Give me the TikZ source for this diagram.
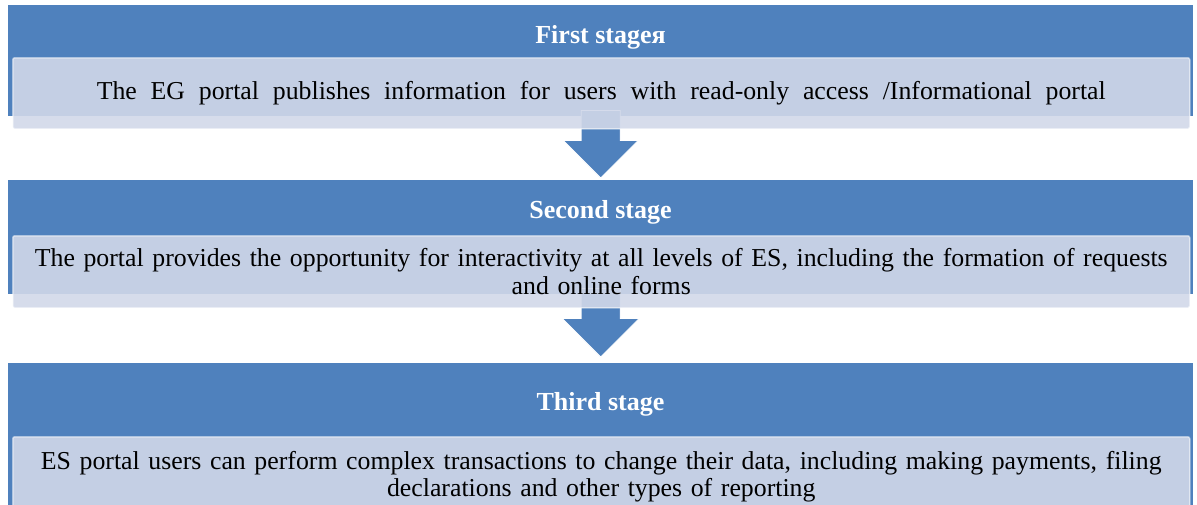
\documentclass[tikz,border=0pt]{standalone}
\usepackage{fontspec}
\setmainfont{Liberation Serif}
\usetikzlibrary{positioning,calc}
\definecolor{stageblue}{HTML}{4F81BD}
\definecolor{stagelight}{HTML}{D1D8E9}
\tikzset{
  band/.style={fill=stageblue,inner sep=0pt,anchor=north west,minimum width=1185},
  stagetitle/.style={text=white,font=\fontsize{26}{28}\selectfont\bfseries,anchor=base},
  infobox/.style={fill=stagelight,fill opacity=0.9,text opacity=1,draw=white,draw opacity=0.5,
    line width=1.5pt,rounded corners=2pt,anchor=north west,minimum width=1177,
    text width=1160,align=center,font=\fontsize{25.8}{27.5}\selectfont},
  widespace/.style={execute at begin node={\spaceskip=10.9pt plus 2pt minus 1pt}},
  downarrow/.style={fill=stageblue,draw=white,line width=0.8pt,line join=miter}
}
\begin{document}
\begin{tikzpicture}[x=1pt,y=-1pt]
  \useasboundingbox (0,0) rectangle (1197,504);
  \clip (0,0) rectangle (1197,504);
  % blue bands
  \node[band,minimum height=111] (band1) at (8,5) {};
  \node[band,minimum height=114] (band2) at (8,180) {};
  \node[band,minimum height=160] (band3) at (8,363) {};
  \node[stagetitle] (title1) at (600.5,43) {First stageя};
  \node[stagetitle] (title2) at (600.5,218) {Second stage};
  \node[stagetitle] (title3) at (600.5,410) {Third stage};
  % arrows between the stages
  \draw[downarrow] ($(band1.south)+(-19.5,-6)$) -- ++(39,0) |- ($(band1.south)+(37.5,24)$)
    -- ($(band2.north)+(0,-2)$) -- ($(band1.south)+(-37.5,24)$) -| cycle;
  \draw[downarrow] ($(band2.south)+(-19.5,-6)$) -- ++(39,0) |- ($(band2.south)+(38.5,24)$)
    -- ($(band3.north)+(0,-6)$) -- ($(band2.south)+(-38.5,24)$) -| cycle;
  % text boxes
  \node[infobox,widespace,minimum height=71] (box1) at (12,57)
    {The EG portal publishes information for users with read-only access /Informational portal};
  \node[infobox,minimum height=72] (box2) at (12,235)
    {The portal provides the opportunity for interactivity at all levels of ES, including the formation of requests\\ and online forms};
  \node[infobox,minimum height=80] (box3) at (12,436)
    {ES portal users can perform complex transactions to change their data, including making payments, filing\\ declarations and other types of reporting};
\end{tikzpicture}
\end{document}
